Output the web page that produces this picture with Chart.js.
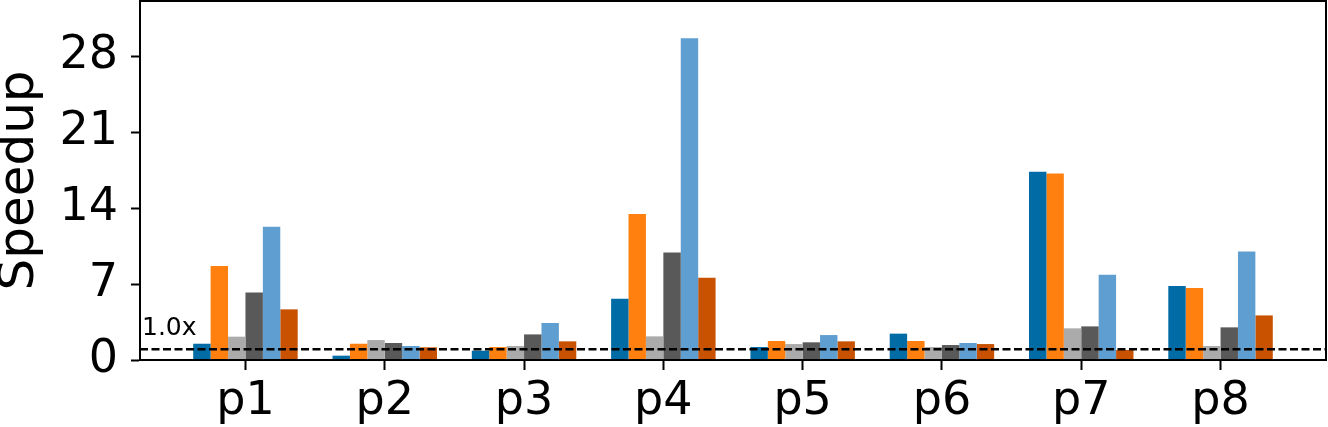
<!DOCTYPE html>
<html>
<head>
<meta charset="utf-8">
<script src="https://cdn.jsdelivr.net/npm/chart.js@4/dist/chart.umd.min.js"></script>
<style>
  html, body { margin: 0; padding: 0; background: #fff; }
  #wrap { width: 1328px; height: 427px; }
</style>
</head>
<body>
<div id="wrap"><canvas id="chart"></canvas></div>
<script>
// programs on the x axis
const programs = ['p1', 'p2', 'p3', 'p4', 'p5', 'p6', 'p7', 'p8'];

// speedup per program, one array per variant
const series1 = [1.50, 0.40, 0.86, 5.65, 1.20, 2.43, 17.35, 6.82];
const series2 = [8.66, 1.50, 1.20, 13.45, 1.75, 1.75, 17.19, 6.63];
const series3 = [2.15, 1.84, 1.29, 2.18, 1.47, 1.20, 2.92, 1.29];
const series4 = [6.23, 1.57, 2.36, 9.92, 1.63, 1.38, 3.10, 3.01];
const series5 = [12.28, 1.29, 3.41, 29.66, 2.30, 1.57, 7.86, 10.01];
const series6 = [4.67, 1.17, 1.72, 7.58, 1.72, 1.47, 0.92, 4.11];

const yTicks = [0, 7, 14, 21, 28];
const baseline = 1.0;

const colors = ['#006BA4', '#FF800E', '#ABABAB', '#595959', '#5F9ED1', '#C85200'];
const allSeries = [series1, series2, series3, series4, series5, series6];

const FONT = '"DejaVu Sans", sans-serif';

// dashed 1.0x line, its label, and the box around the plot
const refLine = {
  id: 'refLine',
  afterDatasetsDraw(chart) {
    const { ctx, chartArea: a, scales: { y } } = chart;
    const py = y.getPixelForValue(baseline);
    ctx.save();
    ctx.strokeStyle = '#000';
    ctx.lineWidth = 2.5;
    ctx.setLineDash([8, 3.5]);
    ctx.beginPath();
    ctx.moveTo(a.left, py);
    ctx.lineTo(a.right, py);
    ctx.stroke();
    ctx.setLineDash([]);
    ctx.fillStyle = '#000';
    ctx.font = '25px ' + FONT;
    ctx.textBaseline = 'alphabetic';
    ctx.fillText(baseline.toFixed(1) + 'x', a.left + 2, py - 14);
    ctx.lineWidth = 2;
    ctx.strokeRect(a.left, a.top, a.right - a.left, a.bottom - a.top);
    ctx.restore();
  }
};

new Chart(document.getElementById('chart'), {
  type: 'bar',
  data: {
    datasets: allSeries.map((vals, i) => ({
      label: 'series ' + (i + 1),
      data: vals.map((v, j) => ({ x: j, y: v })),
      backgroundColor: colors[i],
      borderWidth: 0,
      categoryPercentage: 0.75,
      barPercentage: 1.0
    }))
  },
  options: {
    responsive: true,
    maintainAspectRatio: false,
    animation: false,
    layout: { padding: { top: 1, right: 2, left: 0, bottom: 0 } },
    plugins: { legend: { display: false }, tooltip: { enabled: false } },
    scales: {
      x: {
        type: 'linear',
        min: -0.757,
        max: 7.757,
        offset: false,
        afterBuildTicks: s => { s.ticks = programs.map((_, i) => ({ value: i })); },
        afterFit: s => { s.height = 67; s.paddingLeft = 0; s.paddingRight = 0; },
        grid: { display: true, offset: false, drawOnChartArea: false, drawTicks: true, tickLength: 10, tickWidth: 2, tickColor: '#000' },
        border: { display: true, color: '#000', width: 2 },
        ticks: {
          autoSkip: false,
          maxRotation: 0,
          padding: 4,
          color: '#000',
          font: { family: FONT, size: 46 },
          callback: v => programs[v]
        }
      },
      y: {
        min: 0,
        max: 33.1,
        afterBuildTicks: s => { s.ticks = yTicks.map(v => ({ value: v })); },
        afterFit: s => { s.width = 140; s.paddingTop = 0; s.paddingBottom = 0; },
        grid: { display: true, drawOnChartArea: false, drawTicks: true, tickLength: 9, tickWidth: 2, tickColor: '#000' },
        border: { display: true, color: '#000', width: 2 },
        ticks: {
          padding: 13,
          color: '#000',
          font: { family: FONT, size: 46 }
        },
        title: {
          display: true,
          text: 'Speedup',
          color: '#000',
          padding: 0,
          font: { family: FONT, size: 50, lineHeight: 0.8 }
        }
      }
    }
  },
  plugins: [refLine]
});
</script>
</body>
</html>
